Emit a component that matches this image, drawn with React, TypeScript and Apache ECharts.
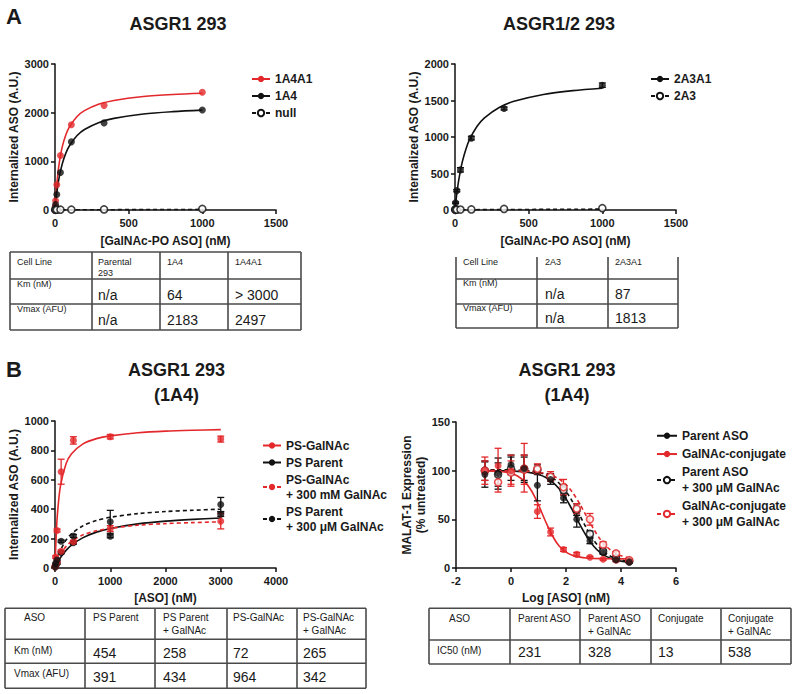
import React, { useEffect, useRef } from 'react';
import * as echarts from 'echarts';

const RED = '#e3282b';
const BLACK = '#111111';
const TXT = '#1a1a1a';
const FONT = 'Arial, "Liberation Sans", Helvetica, sans-serif';

// ---------- Panel A left: ASGR1 293 ----------
const concA = [1.4, 4.1, 12.3, 37, 111, 333, 1000];
const pts1A4A1 = [70, 190, 520, 1120, 1750, 2150, 2420];
const pts1A4 = [30, 110, 320, 770, 1400, 1790, 2055];
const ptsNullA = [5, 3, 5, 6, 8, 12, 22];
const curveXA = [0, 5, 10, 20, 30, 50, 75, 100, 150, 200, 300, 400, 600, 800, 1000];
const fit1A4A1 = [0, 246, 448, 761, 991, 1307, 1556, 1719, 1921, 2041, 2176, 2251, 2331, 2374, 2400];
const fit1A4 = [0, 158, 295, 520, 697, 957, 1178, 1331, 1530, 1654, 1799, 1882, 1973, 2021, 2052];
const nullLineX = [0, 1000];
const nullLineY = [3, 12];

// ---------- Panel A right: ASGR1/2 293 ----------
const pts2A3A1 = [20, 100, 265, 550, 985, 1390, 1710];
const err2A3A1 = [5, 10, 15, 30, 25, 20, 30];
const pts2A3 = [3, 2, 4, 6, 8, 15, 25];
const fit2A3A1 = [0, 99, 187, 339, 465, 662, 839, 970, 1147, 1263, 1405, 1489, 1583, 1635, 1668];

// ---------- Panel B left: uptake ----------
const concB = [4.1, 12.3, 37, 111, 333, 1000, 3000];
const ptsPSGalNAc = [15, 75, 255, 655, 868, 893, 877];
const errPSGalNAc = [3, 8, 10, 85, 25, 15, 20];
const ptsPSParent = [5, 15, 30, 105, 172, 216, 366];
const errPSParent = [2, 3, 5, 8, 10, 10, 15];
const ptsPSGalNAcG = [8, 20, 40, 114, 178, 268, 318];
const errPSGalNAcG = [2, 4, 6, 8, 10, 20, 52];
const ptsPSParentG = [10, 30, 55, 182, 218, 314, 432];
const errPSParentG = [2, 4, 6, 8, 10, 78, 48];
const curveXB = [0, 25, 50, 100, 200, 300, 500, 750, 1000, 1500, 2000, 2500, 3000];
const fitPSGalNAc = [0, 248, 395, 560, 709, 777, 843, 880, 899, 920, 931, 937, 941];
const fitPSParent = [0, 20, 39, 71, 120, 156, 205, 244, 269, 300, 319, 331, 340];
const fitPSParentG = [0, 38, 70, 121, 190, 233, 286, 323, 345, 370, 384, 393, 400];
const fitPSGalNAcG = [0, 29, 54, 94, 147, 182, 224, 253, 270, 291, 302, 309, 314];

// ---------- Panel B right: MALAT-1 dose response ----------
const logDose = [-0.95, -0.47, 0, 0.48, 0.96, 1.44, 1.91, 2.39, 2.87, 3.35, 3.82, 4.3];
const ptsParent = [96, 97, 106, 102, 85, 91, 72, 50, 28, 16, 8.5, 6];
const errParent = [13, 16, 10, 14, 16, 5, 5, 8, 3, 2, 2, 1];
const ptsConj = [100, 105, 100, 103, 58, 37, 19, 14, 11, 9, 8, 7];
const errConj = [14, 18, 16, 25, 7, 4, 2, 2, 1, 1, 1, 1];
const ptsParentG = [100, 96, 102, 102, 101, 93, 80, 60, 35, 17, 10, 7];
const errParentG = [10, 12, 12, 12, 5, 4, 5, 6, 3, 2, 2, 1];
const ptsConjG = [100, 88, 98, 101, 102, 94, 83, 61, 50, 24, 15, 8];
const errConjG = [10, 10, 12, 15, 5, 5, 8, 5, 6, 3, 2, 1];
const curveXL = [-1, -0.5, 0, 0.25, 0.5, 0.75, 1, 1.25, 1.5, 1.75, 2, 2.25, 2.5, 2.75, 3, 3.25, 3.5, 3.75, 4, 4.3];
const fitParent = [100, 99.9, 99.6, 99.3, 98.7, 97.7, 96.0, 93.2, 88.5, 81.3, 71.1, 58.5, 44.9, 32.5, 22.7, 15.8, 11.4, 8.7, 7.1, 6.1];
const fitParentG = [101, 101, 100.7, 100.5, 100.1, 99.4, 98.2, 96.1, 92.6, 87.1, 78.7, 67.5, 54.1, 40.6, 28.9, 20.1, 14.1, 10.3, 8.1, 6.6];
const fitConj = [99.9, 99.4, 97.2, 94.3, 88.7, 79.1, 64.9, 48.3, 33.4, 22.6, 16.4, 12.9, 11.2, 10.2, 9.8, 9.6, 9.5, 9.4, 9.4, 9.4];
const fitConjG = [100, 100, 99.8, 99.7, 99.5, 99.0, 98.3, 97.1, 94.9, 91.3, 85.6, 77.1, 65.9, 52.9, 40.2, 29.3, 21.4, 16.0, 12.7, 10.4];

// ---------- Tables ----------
const tA1Header = ['Cell Line', 'Parental\n293', '1A4', '1A4A1'];
const tA1Labels = ['Km (nM)', 'Vmax (AFU)'];
const tA1Km = ['n/a', '64', '> 3000'];
const tA1Vmax = ['n/a', '2183', '2497'];

const tA2Header = ['Cell Line', '2A3', '2A3A1'];
const tA2Labels = ['Km (nM)', 'Vmax (AFU)'];
const tA2Km = ['n/a', '87'];
const tA2Vmax = ['n/a', '1813'];

const tB1Header = ['ASO', 'PS Parent', 'PS Parent\n+ GalNAc', 'PS-GalNAc', 'PS-GalNAc\n+ GalNAc'];
const tB1Labels = ['Km (nM)', 'Vmax (AFU)'];
const tB1Km = ['454', '258', '72', '265'];
const tB1Vmax = ['391', '434', '964', '342'];

const tB2Header = ['ASO', 'Parent ASO', 'Parent ASO\n+ GalNAc', 'Conjugate', 'Conjugate\n+ GalNAc'];
const tB2Labels = ['IC50 (nM)'];
const tB2IC50 = ['231', '328', '13', '538'];

const zip = (xs: number[], ys: number[]) => xs.map((x, i) => [x, ys[i]]);
const zipErr = (xs: number[], ys: number[], es: number[]) => xs.map((x, i) => [x, ys[i], es[i]]);

function curve(name: string, g: number, xs: number[], ys: number[], color: string, dashed: boolean, empty: boolean) {
  return {
    type: 'line', name, xAxisIndex: g, yAxisIndex: g, data: zip(xs, ys),
    smooth: 0.3, showSymbol: false,
    symbol: empty ? 'emptyCircle' : 'circle', symbolSize: 7,
    lineStyle: { color, width: 1.6, type: dashed ? [4, 3] : 'solid' },
    itemStyle: { color }, z: 2, silent: true,
  };
}
function points(name: string, g: number, xs: number[], ys: number[], color: string, empty: boolean) {
  return {
    type: 'scatter', name, xAxisIndex: g, yAxisIndex: g, data: zip(xs, ys),
    symbol: 'circle', symbolSize: 7,
    itemStyle: empty ? { color: '#ffffff', borderColor: color, borderWidth: 1.6 } : { color },
    z: 4, silent: true,
  };
}
function errors(name: string, g: number, xs: number[], ys: number[], es: number[], color: string) {
  return {
    type: 'custom', name, xAxisIndex: g, yAxisIndex: g, data: zipErr(xs, ys, es),
    encode: { x: 0, y: 1 }, z: 3, silent: true,
    renderItem: (params: any, api: any) => {
      const x = api.value(0), y = api.value(1), e = api.value(2);
      const t = api.coord([x, y + e]);
      const b = api.coord([x, Math.max(0, y - e)]);
      const w = 3.5;
      const st = { stroke: color, lineWidth: 1.3 };
      return {
        type: 'group',
        children: [
          { type: 'line', shape: { x1: t[0], y1: t[1], x2: b[0], y2: b[1] }, style: st },
          { type: 'line', shape: { x1: t[0] - w, y1: t[1], x2: t[0] + w, y2: t[1] }, style: st },
          { type: 'line', shape: { x1: b[0] - w, y1: b[1], x2: b[0] + w, y2: b[1] }, style: st },
        ],
      };
    },
  };
}

const axisCommon = {
  axisLine: { show: true, onZero: false, lineStyle: { color: BLACK, width: 1.5 } },
  axisTick: { show: true, inside: false, length: 4, lineStyle: { color: BLACK, width: 1.5 } },
  splitLine: { show: false },
  nameLocation: 'middle',
  nameTextStyle: { fontFamily: FONT, fontWeight: 'bold', fontSize: 12, color: TXT, lineHeight: 14 },
};
const plain = (v: number) => String(v);
function xAx(g: number, min: number, max: number, interval: number, name: string, gap: number) {
  return {
    ...axisCommon, type: 'value', gridIndex: g, min, max, interval, name, nameGap: gap,
    axisLabel: { fontFamily: FONT, fontWeight: 'bold', fontSize: 11, color: TXT, margin: 7, formatter: plain },
  };
}
function yAx(g: number, min: number, max: number, interval: number, name: string, gap: number) {
  return {
    ...axisCommon, type: 'value', gridIndex: g, min, max, interval, name, nameGap: gap,
    axisLabel: { fontFamily: FONT, fontWeight: 'bold', fontSize: 11, color: TXT, margin: 6, formatter: plain },
  };
}

function legend(left: number, top: number, itemWidth: number, lineHeight: number, gap: number, data: string[]) {
  return {
    left, top, orient: 'vertical', itemWidth, itemHeight: 8, itemGap: gap, selectedMode: false,
    textStyle: { fontFamily: FONT, fontWeight: 'bold', fontSize: 12, color: TXT, lineHeight },
    data,
  };
}

function txt(x: number, y: number, text: string, size: number, weight: string, align: string, vAlign: string, lineHeight?: number) {
  return {
    type: 'text', x, y, silent: true,
    style: {
      text, fontFamily: FONT, fontSize: size, fontWeight: weight, fill: TXT,
      align, verticalAlign: vAlign, lineHeight: lineHeight || size + 2,
    },
  };
}
function ln(x1: number, y1: number, x2: number, y2: number) {
  return { type: 'line', silent: true, shape: { x1, y1, x2, y2 }, style: { stroke: '#4a4a4a', lineWidth: 1.6 } };
}

function table(cols: number[], rows: number[], noTop: boolean, vTop: number,
  header: string[], labels: string[], values: string[][],
  xOff: number[], labelOff: number, headTop: number, headSize: number, headLH: number,
  labelY: number[], valueY: number[], valueSize: number) {
  const els: any[] = [];
  rows.forEach((r, i) => { if (!(noTop && i === 0)) els.push(ln(cols[0], r, cols[cols.length - 1], r)); });
  cols.forEach((c) => els.push(ln(c, noTop ? vTop : rows[0], c, rows[rows.length - 1])));
  header.forEach((h, i) => els.push(txt(cols[i] + xOff[i], headTop, h, headSize, 'normal', 'left', 'top', headLH)));
  labels.forEach((l, r) => {
    els.push(txt(cols[0] + labelOff, labelY[r], l, headSize, 'normal', 'left', 'middle'));
    values[r].forEach((v, c) => els.push(txt(cols[c + 1] + xOff[c + 1], valueY[r], v, valueSize, 'normal', 'left', 'middle')));
  });
  return els;
}

export default function App() {
  const ref = useRef<HTMLDivElement>(null);
  useEffect(() => {
    if (!ref.current) return;
    const chart = echarts.init(ref.current, undefined, { renderer: 'svg' });

    const graphics: any[] = [
      txt(6, 16, 'A', 22, 'bold', 'left', 'middle'),
      txt(6, 369, 'B', 22, 'bold', 'left', 'middle'),
      txt(178, 23.5, 'ASGR1 293', 18, 'bold', 'center', 'middle'),
      txt(559, 23.5, 'ASGR1/2 293', 18, 'bold', 'center', 'middle'),
      txt(176.5, 370, 'ASGR1 293', 18, 'bold', 'center', 'middle'),
      txt(176.5, 394.5, '(1A4)', 18, 'bold', 'center', 'middle'),
      txt(567, 370, 'ASGR1 293', 18, 'bold', 'center', 'middle'),
      txt(567, 394.5, '(1A4)', 18, 'bold', 'center', 'middle'),
      ...table([10, 92, 160, 228, 301], [252, 279, 304, 330], false, 252,
        tA1Header, tA1Labels, [tA1Km, tA1Vmax], [7, 6, 7, 7], 7, 256.5, 9, 11,
        [284, 309], [294.5, 319.5], 14),
      ...table([456, 537, 608, 678], [252, 279, 304, 328], true, 257,
        tA2Header, tA2Labels, [tA2Km, tA2Vmax], [7, 8, 7], 7, 256.5, 9, 11,
        [283, 308], [294, 317.5], 14),
      ...table([5, 85, 155, 227, 297, 366], [608.3, 639.3, 663.3, 688.3], false, 608,
        tB1Header, tB1Labels, [tB1Km, tB1Vmax], [19, 8, 8, 6, 6], 9, 611.6, 10, 12.7,
        [650, 673.3], [652.5, 676.7], 14),
      ...table([429, 510, 580, 651, 721, 791], [608.3, 640, 664], false, 608,
        tB2Header, tB2Labels, [tB2IC50], [20, 8, 8, 7, 7], 8, 611.5, 10, 13,
        [650], [652], 14),
    ];

    const option: any = {
      animation: false,
      backgroundColor: '#ffffff',
      grid: [
        { left: 55, top: 64, width: 221, height: 146 },
        { left: 455, top: 64, width: 221, height: 146 },
        { left: 55, top: 421, width: 221, height: 147 },
        { left: 456, top: 422, width: 220, height: 146 },
      ],
      xAxis: [
        xAx(0, 0, 1500, 500, '[GalNAc-PO ASO] (nM)', 24),
        xAx(1, 0, 1500, 500, '[GalNAc-PO ASO] (nM)', 24),
        xAx(2, 0, 4000, 1000, '[ASO] (nM)', 23),
        xAx(3, -2, 6, 2, 'Log [ASO] (nM)', 23),
      ],
      yAxis: [
        yAx(0, 0, 3000, 1000, 'Internalized ASO (A.U.)', 29),
        yAx(1, 0, 2000, 500, 'Internalized ASO (A.U.)', 29),
        yAx(2, 0, 1000, 200, 'Internalized ASO (A.U.)', 29),
        yAx(3, 0, 150, 50, 'MALAT-1 Expression\n(% untreated)', 26),
      ],
      legend: [
        legend(246, 67, 18, 14, 3, ['1A4A1', '1A4', 'null']),
        legend(645, 67, 18, 14, 3, ['2A3A1', '2A3']),
        legend(257, 433, 18, 15, 2, ['PS-GalNAc', 'PS Parent', 'PS-GalNAc\n+ 300 mM GalNAc', 'PS Parent\n+ 300 μM GalNAc']),
        legend(651, 423, 20, 15.5, 2.8, ['Parent ASO', 'GalNAc-conjugate', 'Parent ASO\n+ 300 μM GalNAc', 'GalNAc-conjugate\n+ 300 μM GalNAc']),
      ],
      series: [
        // A left
        curve('1A4A1', 0, curveXA, fit1A4A1, RED, false, false),
        curve('1A4', 0, curveXA, fit1A4, BLACK, false, false),
        curve('null', 0, nullLineX, nullLineY, BLACK, true, true),
        points('1A4A1 data', 0, concA, pts1A4A1, RED, false),
        points('1A4 data', 0, concA, pts1A4, BLACK, false),
        points('null data', 0, concA, ptsNullA, BLACK, true),
        // A right
        curve('2A3A1', 1, curveXA, fit2A3A1, BLACK, false, false),
        curve('2A3', 1, nullLineX, nullLineY, BLACK, true, true),
        errors('2A3A1 err', 1, concA, pts2A3A1, err2A3A1, BLACK),
        points('2A3A1 data', 1, concA, pts2A3A1, BLACK, false),
        points('2A3 data', 1, concA, pts2A3, BLACK, true),
        // B left
        curve('PS-GalNAc', 2, curveXB, fitPSGalNAc, RED, false, false),
        curve('PS Parent', 2, curveXB, fitPSParent, BLACK, false, false),
        curve('PS-GalNAc\n+ 300 mM GalNAc', 2, curveXB, fitPSGalNAcG, RED, true, false),
        curve('PS Parent\n+ 300 μM GalNAc', 2, curveXB, fitPSParentG, BLACK, true, false),
        errors('e1', 2, concB, ptsPSGalNAc, errPSGalNAc, RED),
        errors('e2', 2, concB, ptsPSParent, errPSParent, BLACK),
        errors('e3', 2, concB, ptsPSGalNAcG, errPSGalNAcG, RED),
        errors('e4', 2, concB, ptsPSParentG, errPSParentG, BLACK),
        points('p1', 2, concB, ptsPSGalNAc, RED, false),
        points('p2', 2, concB, ptsPSParent, BLACK, false),
        points('p3', 2, concB, ptsPSGalNAcG, RED, false),
        points('p4', 2, concB, ptsPSParentG, BLACK, false),
        // B right
        curve('Parent ASO', 3, curveXL, fitParent, BLACK, false, false),
        curve('GalNAc-conjugate', 3, curveXL, fitConj, RED, false, false),
        curve('Parent ASO\n+ 300 μM GalNAc', 3, curveXL, fitParentG, BLACK, true, true),
        curve('GalNAc-conjugate\n+ 300 μM GalNAc', 3, curveXL, fitConjG, RED, true, true),
        errors('f1', 3, logDose, ptsParent, errParent, BLACK),
        errors('f2', 3, logDose, ptsConj, errConj, RED),
        errors('f3', 3, logDose, ptsParentG, errParentG, BLACK),
        errors('f4', 3, logDose, ptsConjG, errConjG, RED),
        points('q3', 3, logDose, ptsParentG, BLACK, true),
        points('q4', 3, logDose, ptsConjG, RED, true),
        points('q2', 3, logDose, ptsConj, RED, false),
        points('q1', 3, logDose, ptsParent, BLACK, false),
      ],
      graphic: graphics,
    };
    chart.setOption(option);
    return () => chart.dispose();
  }, []);
  return <div ref={ref} style={{ position: 'absolute', left: 0, top: 0, width: 796, height: 694 }} />;
}
